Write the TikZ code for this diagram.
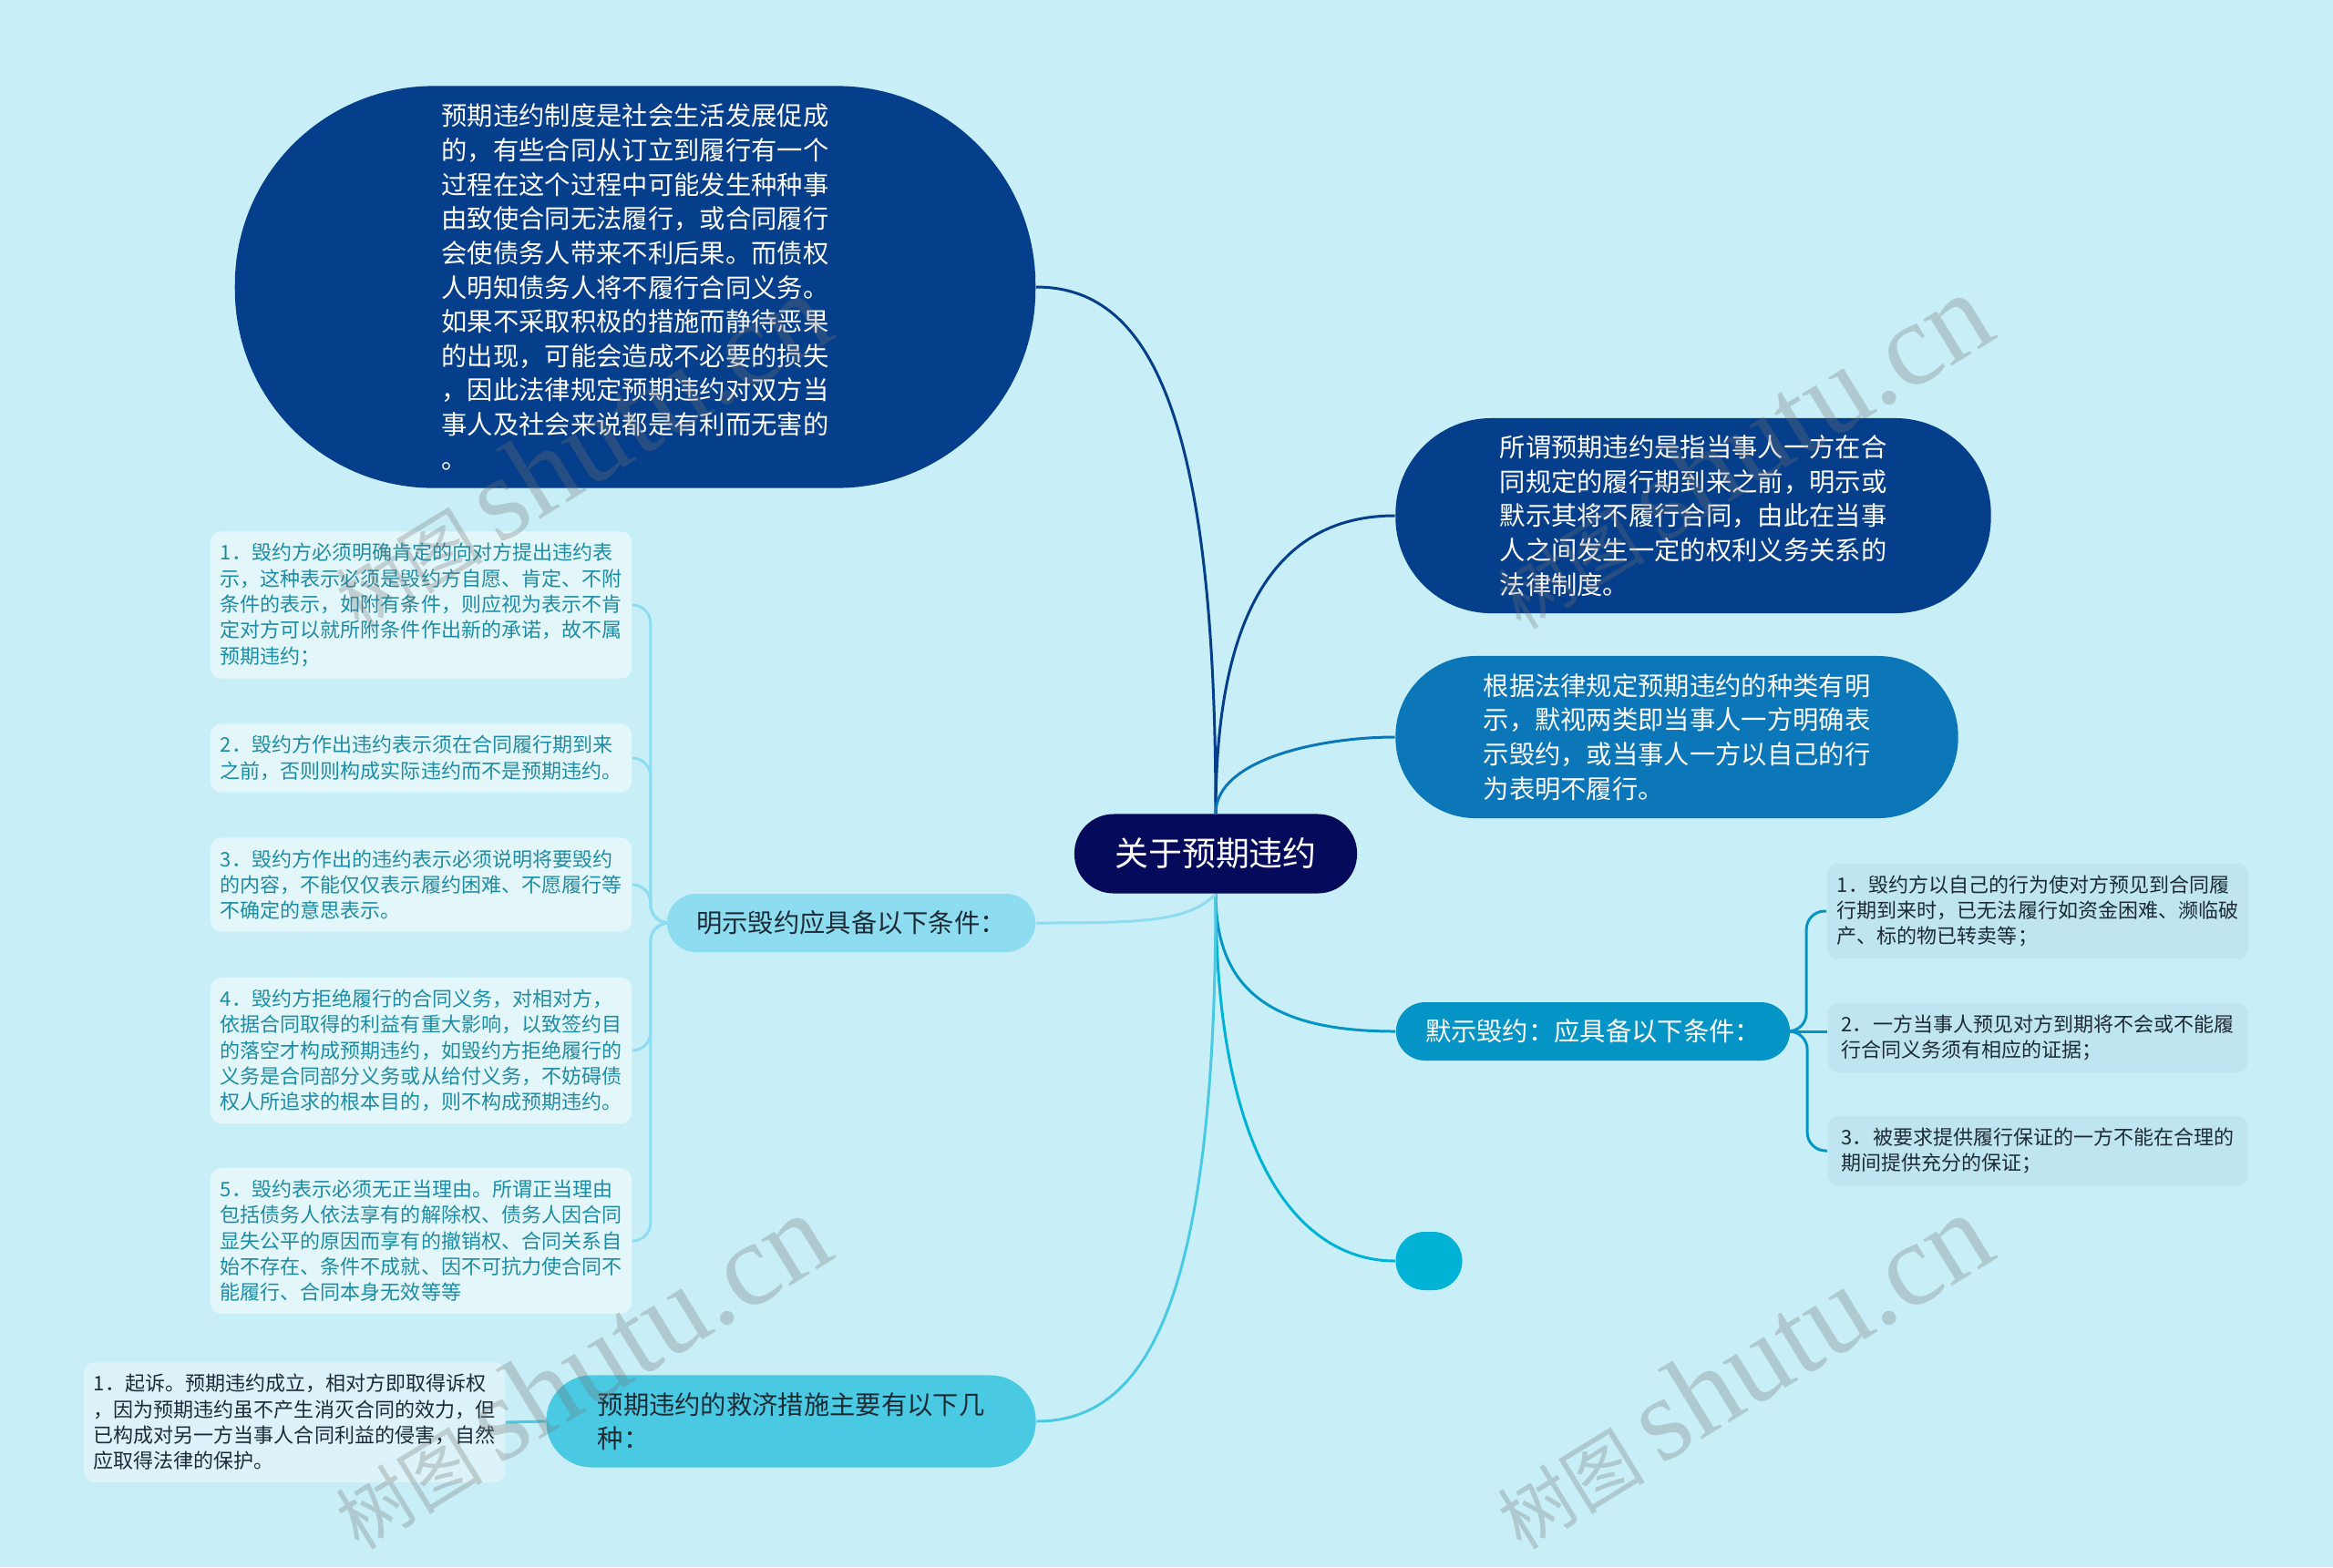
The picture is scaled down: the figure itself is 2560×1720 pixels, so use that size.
\documentclass[tikz,border=0pt]{standalone}
\usepackage{fontspec}
\setmainfont{Noto Sans CJK SC}
\newfontfamily\wmserif{Liberation Serif}
\newcommand\bigtxt{\fontsize{8.05pt}{10.7pt}\selectfont}
\newcommand\hubtxt{\fontsize{10.5pt}{12pt}\selectfont}
\newcommand\leaftxt{\fontsize{6.26pt}{8.05pt}\selectfont}
\definecolor{bgc}{HTML}{C8EFF7}
\definecolor{navyhub}{HTML}{060A5A}
\definecolor{navyb}{HTML}{053E8A}
\definecolor{midb}{HTML}{0B76B8}
\definecolor{moshic}{HTML}{0495C6}
\definecolor{dotc}{HTML}{00B2D6}
\definecolor{jiujic}{HTML}{4AC9E3}
\definecolor{mingc}{HTML}{8DDCEF}
\definecolor{leaftext}{HTML}{1E8CA5}
\definecolor{leafL}{HTML}{E3F7FB}
\definecolor{leafR}{HTML}{BFE5F0}
\definecolor{leafJ}{HTML}{DCF4F9}
\definecolor{darktext}{HTML}{1C2B36}
\pgfdeclarelayer{bg}
\pgfdeclarelayer{edges}
\pgfsetlayers{bg,edges,main}
\begin{document}
\begin{tikzpicture}[x=0.01cm, y=-0.01cm, line cap=round, line join=round,
  topic/.style={rectangle, rounded corners=#1, inner sep=0pt, align=left, text=white, font=\bigtxt},
  leafbox/.style={rectangle, rounded corners=0.12cm, inner xsep=0.11cm, inner ysep=0.13cm, minimum width=4.6cm, align=left, font=\leaftxt},
  link/.style={line width=0.85pt},
  wmtext/.style={rotate=31.6, text=black!55, text opacity=0.3, inner sep=0pt}]
\useasboundingbox (0,0) rectangle (2560,1720);
\begin{pgfonlayer}{bg}
\fill[bgc] (0,0) rectangle (2560,1720);
\end{pgfonlayer}

% hub and main topics
\node[topic=0.43cm, fill=navyhub, font=\hubtxt, minimum width=3.1cm, minimum height=0.87cm] (hub) at (1334,937) {关于预期违约};
\node[topic=2.18cm, fill=navyb, minimum width=8.78cm, minimum height=4.41cm] (intro) at (697,315) {预期违约制度是社会生活发展促成\\的，有些合同从订立到履行有一个\\过程在这个过程中可能发生种种事\\由致使合同无法履行，或合同履行\\会使债务人带来不利后果。而债权\\人明知债务人将不履行合同义务。\\如果不采取积极的措施而静待恶果\\的出现，可能会造成不必要的损失\\，因此法律规定预期违约对双方当\\事人及社会来说都是有利而无害的\\。};
\node[topic=1.05cm, fill=navyb, minimum width=6.53cm, minimum height=2.14cm] (defn) at (1858,566) {所谓预期违约是指当事人一方在合\\同规定的履行期到来之前，明示或\\默示其将不履行合同，由此在当事\\人之间发生一定的权利义务关系的\\法律制度。};
\node[topic=0.88cm, fill=midb, minimum width=6.17cm, minimum height=1.78cm] (kinds) at (1840,809) {根据法律规定预期违约的种类有明\\示，默视两类即当事人一方明确表\\示毁约，或当事人一方以自己的行\\为表明不履行。};
\node[topic=0.32cm, fill=moshic, minimum width=4.32cm, minimum height=0.64cm] (moshi) at (1748,1132) {默示毁约：应具备以下条件：};
\node[topic=0.32cm, fill=dotc, minimum width=0.73cm, minimum height=0.64cm] (blank) at (1568,1384) {};
\node[topic=0.5cm, fill=jiujic, text=darktext, minimum width=5.37cm, minimum height=1.01cm] (jiuji) at (868,1560) {预期违约的救济措施主要有以下几\\种：};
\node[topic=0.32cm, fill=mingc, text=darktext, minimum width=4.04cm, minimum height=0.64cm] (mingshi) at (934,1013) {明示毁约应具备以下条件：};

% leaves of mingshi
\node[leafbox, fill=leafL, text=leaftext] (m1) at (462,664) {1．毁约方必须明确肯定的向对方提出违约表\\示，这种表示必须是毁约方自愿、肯定、不附\\条件的表示，如附有条件，则应视为表示不肯\\定对方可以就所附条件作出新的承诺，故不属\\预期违约；};
\node[leafbox, fill=leafL, text=leaftext] (m2) at (462,832) {2．毁约方作出违约表示须在合同履行期到来\\之前，否则则构成实际违约而不是预期违约。};
\node[leafbox, fill=leafL, text=leaftext] (m3) at (462,971) {3．毁约方作出的违约表示必须说明将要毁约\\的内容，不能仅仅表示履约困难、不愿履行等\\不确定的意思表示。};
\node[leafbox, fill=leafL, text=leaftext] (m4) at (462,1153) {4．毁约方拒绝履行的合同义务，对相对方，\\依据合同取得的利益有重大影响，以致签约目\\的落空才构成预期违约，如毁约方拒绝履行的\\义务是合同部分义务或从给付义务，不妨碍债\\权人所追求的根本目的，则不构成预期违约。};
\node[leafbox, fill=leafL, text=leaftext] (m5) at (462,1362) {5．毁约表示必须无正当理由。所谓正当理由\\包括债务人依法享有的解除权、债务人因合同\\显失公平的原因而享有的撤销权、合同关系自\\始不存在、条件不成就、因不可抗力使合同不\\能履行、合同本身无效等等};

% leaves of moshi
\node[leafbox, fill=leafR, text=darktext] (s1) at (2236,1000) {1．毁约方以自己的行为使对方预见到合同履\\行期到来时，已无法履行如资金困难、濒临破\\产、标的物已转卖等；};
\node[leafbox, fill=leafR, text=darktext] (s2) at (2236,1139) {2．一方当事人预见对方到期将不会或不能履\\行合同义务须有相应的证据；};
\node[leafbox, fill=leafR, text=darktext] (s3) at (2236,1263) {3．被要求提供履行保证的一方不能在合理的\\期间提供充分的保证；};

% leaf of jiuji
\node[leafbox, fill=leafJ, text=darktext] (j1) at (323,1561) {1．起诉。预期违约成立，相对方即取得诉权\\，因为预期违约虽不产生消灭合同的效力，但\\已构成对另一方当事人合同利益的侵害，自然\\应取得法律的保护。};

\begin{pgfonlayer}{edges}
\draw[link, navyb] (hub.north) .. controls +(0,-450) and +(120,0) .. (intro.east);
\draw[link, navyb] (hub.north) .. controls +(0,-250) and +(-110,0) .. (defn.west);
\draw[link, midb] (hub.north) .. controls +(0,-60) and +(-80,0) .. (kinds.west);
\draw[link, moshic] (hub.south) .. controls +(0,110) and +(-130,0) .. (moshi.west);
\draw[link, dotc] (hub.south) .. controls +(0,300) and +(-100,0) .. (blank.west);
\draw[link, jiujic] (hub.south) .. controls +(0,450) and +(120,0) .. (jiuji.east);
\draw[link, mingc] (hub.south) .. controls +(-30,30) and +(120,0) .. (mingshi.east);
\foreach \n in {m1,m2,m3,m4,m5}
  \draw[link, mingc, rounded corners=0.2cm] (mingshi.west) -| ([xshift=0.2cm]\n.east) -- (\n.east);
\foreach \n in {s1,s3}
  \draw[link, moshic, rounded corners=0.2cm] (moshi.east) -| ([xshift=-0.22cm]\n.west) -- (\n.west);
\draw[link, moshic] (moshi.east) -- (moshi.east -| s2.west);
\draw[link, jiujic] (jiuji.west) -- (j1.east);
\end{pgfonlayer}

% watermarks
\foreach \wx/\wy in {635/495, 1910/495, 635/1505, 1910/1505}
  \node[wmtext] (wm-\wx-\wy) at (\wx,\wy) {\fontsize{23pt}{23pt}\selectfont 树图 \wmserif\fontsize{37pt}{37pt}\selectfont shutu.cn};
\end{tikzpicture}
\end{document}
